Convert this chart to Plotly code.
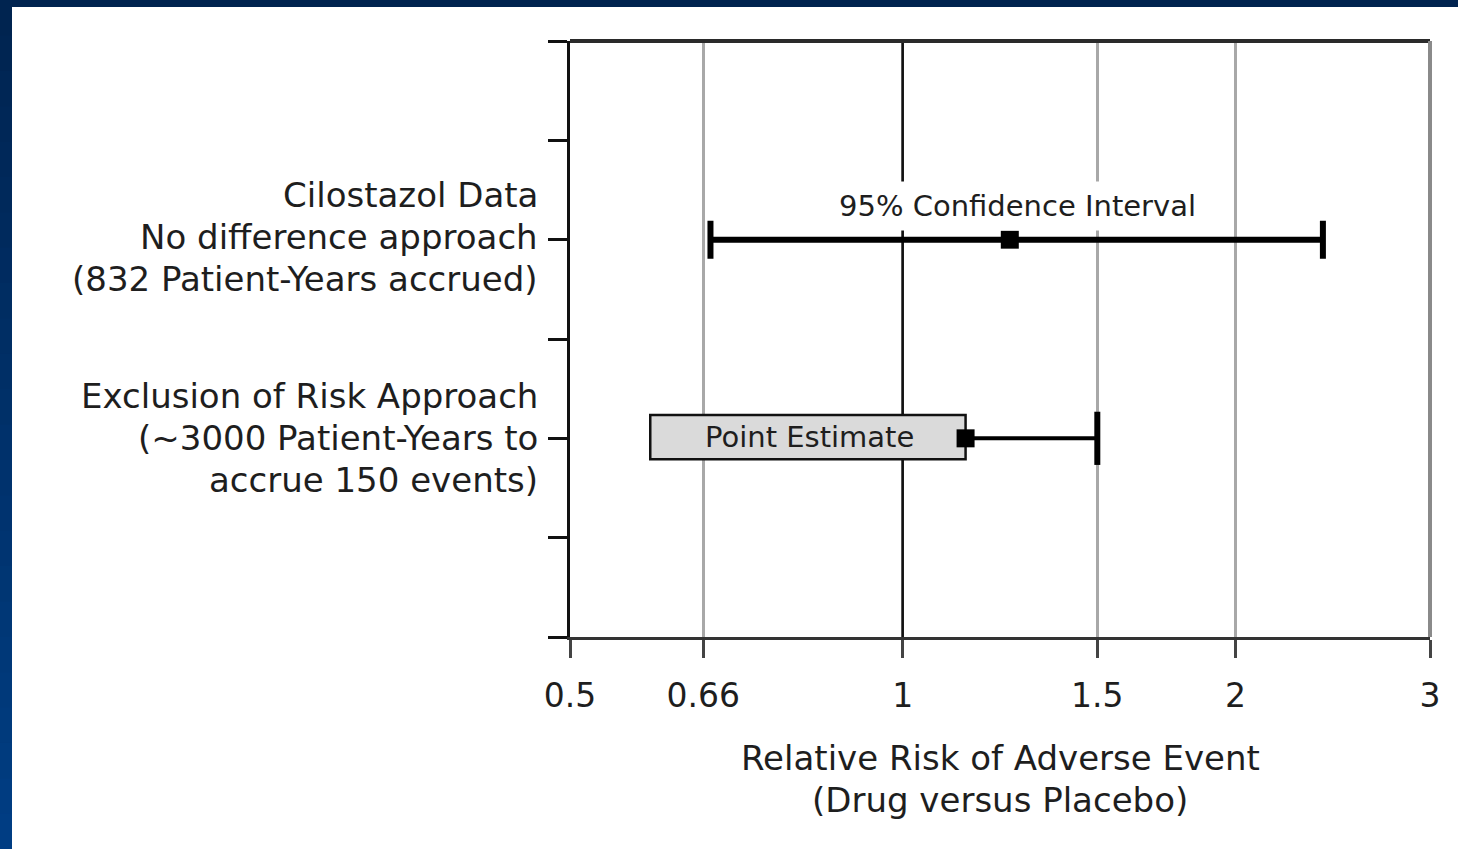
import math
import plotly.graph_objects as go

# Relative-risk interval estimates, one row per approach
row_positions = [4, 2]
point_estimates = [1.25, 1.14]
ci_lower = [0.67, None]
ci_upper = [2.40, 1.50]

row_labels = [
    "Cilostazol Data<br>No difference approach<br>(832 Patient-Years accrued)",
    "Exclusion of Risk Approach<br>(~3000 Patient-Years to<br>accrue 150 events)",
]
axis_title = "Relative Risk of Adverse Event<br>(Drug versus Placebo)"

x_tick_values = [0.5, 0.66, 1, 1.5, 2, 3]
x_tick_labels = ["0.5", "0.66", "1", "1.5", "2", "3"]
y_tick_values = [0, 1, 2, 3, 4, 5, 6]

FONT = "DejaVu Sans"
TEXT = "#1e1e1e"
LINE_GAP = 42  # pixel spacing between stacked text lines

W, H = 1458, 849
ML, MR, MT, MB = 570, 28, 41, 212
PW, PH = W - ML - MR, H - MT - MB


def px_x(px):
    return (px - ML) / PW


def px_y(py):
    return (H - MB - py) / PH


def y_to_px(v):
    return H - MB - v / 6 * PH


fig = go.Figure()

# Upper row: full two-sided confidence interval
fig.add_trace(go.Scatter(
    x=[point_estimates[0]], y=[row_positions[0]], mode="markers",
    marker=dict(symbol="square", size=18, color="black"),
    error_x=dict(type="data", symmetric=False,
                 array=[ci_upper[0] - point_estimates[0]],
                 arrayminus=[point_estimates[0] - ci_lower[0]],
                 thickness=6, width=19, color="black"),
    showlegend=False, hoverinfo="skip",
))

# Lower row: one-sided bound from the point estimate
fig.add_trace(go.Scatter(
    x=[point_estimates[1], ci_upper[1]], y=[row_positions[1]] * 2, mode="lines",
    line=dict(color="black", width=4), showlegend=False, hoverinfo="skip",
))
fig.add_trace(go.Scatter(
    x=[ci_upper[1]], y=[row_positions[1]], mode="markers",
    marker=dict(symbol="line-ns", size=38, line=dict(color="black", width=6)),
    showlegend=False, hoverinfo="skip",
))
fig.add_trace(go.Scatter(
    x=[point_estimates[1]], y=[row_positions[1]], mode="markers",
    marker=dict(symbol="square", size=18, color="black"),
    showlegend=False, hoverinfo="skip",
))

shapes = []

# Reference line at relative risk 1
shapes.append(dict(type="line", xref="x", yref="y", x0=1, x1=1, y0=0, y1=6,
                   line=dict(color="#111111", width=2.5), layer="between"))

# Label box behind the point estimate of the lower row
shapes.append(dict(type="rect", xref="x", yref="y",
                   x0=0.591, x1=point_estimates[1],
                   y0=row_positions[1] - 0.21, y1=row_positions[1] + 0.235,
                   fillcolor="#dadada", line=dict(color="#111111", width=2.5),
                   layer="between"))

# Frame: top and right edges
shapes.append(dict(type="line", xref="paper", yref="paper", x0=0, x1=1, y0=1, y1=1,
                   line=dict(color="#2a2a2a", width=4)))
shapes.append(dict(type="line", xref="paper", yref="paper", x0=1, x1=1, y0=0, y1=1,
                   line=dict(color="#8a8a8a", width=4)))

# Slide background: navy band at the top, shaded band on the left
shapes.append(dict(type="rect", xref="paper", yref="paper",
                   x0=px_x(0), x1=px_x(W), y0=px_y(7), y1=px_y(0),
                   fillcolor="#00234f", line=dict(width=0), layer="above"))
n_seg = 24
top_rgb = (0, 35, 79)
bot_rgb = (0, 62, 132)
for i in range(n_seg):
    t = (i + 0.5) / n_seg
    c = tuple(round(a + (b - a) * t) for a, b in zip(top_rgb, bot_rgb))
    y_top = H * i / n_seg
    y_bot = H * (i + 1) / n_seg + 1
    shapes.append(dict(type="rect", xref="paper", yref="paper",
                       x0=px_x(0), x1=px_x(12), y0=px_y(y_bot), y1=px_y(y_top),
                       fillcolor="rgb(%d,%d,%d)" % c, line=dict(width=0),
                       layer="above"))

annotations = []


def stacked_text(text, x, center_py, xanchor, size):
    """Place each line of a multi-line label at a fixed pixel spacing."""
    lines = text.split("<br>")
    n = len(lines)
    for k, line in enumerate(lines):
        py = center_py + (k - (n - 1) / 2) * LINE_GAP
        annotations.append(dict(
            text=line, xref="paper", yref="paper", x=x, y=px_y(py),
            xanchor=xanchor, yanchor="middle", showarrow=False,
            font=dict(family=FONT, size=size, color=TEXT),
        ))


# Row labels to the left of the axis
row_offsets = [-2.5, 0]
for label, pos, off in zip(row_labels, row_positions, row_offsets):
    stacked_text(label, px_x(540), y_to_px(pos) + off, "right", 34)

annotations.append(dict(
    text="95% Confidence Interval", xref="x", yref="y",
    x=math.log10(1.27), y=4.34, showarrow=False,
    bgcolor="white", borderpad=7,
    font=dict(family=FONT, size=29, color=TEXT),
))
annotations.append(dict(
    text="Point Estimate", xref="x", yref="y",
    x=math.log10(0.823), y=2.01, showarrow=False,
    font=dict(family=FONT, size=29, color=TEXT),
))

# Axis title
stacked_text(axis_title, 0.5, 779, "center", 34)

fig.update_layout(
    width=W, height=H,
    margin=dict(l=ML, r=MR, t=MT, b=MB, autoexpand=False),
    paper_bgcolor="white", plot_bgcolor="white",
    shapes=shapes, annotations=annotations,
    xaxis=dict(
        type="log", range=[math.log10(0.5), math.log10(3)],
        tickmode="array", tickvals=x_tick_values, ticktext=x_tick_labels,
        ticks="outside", ticklen=18, tickwidth=3, tickcolor="#444444",
        showline=True, linecolor="#333333", linewidth=3,
        showgrid=True, gridcolor="#a8a8a8", gridwidth=3, zeroline=False,
        tickfont=dict(family=FONT, size=33, color=TEXT),
        ticklabelstandoff=9,
    ),
    yaxis=dict(
        range=[0, 6], tickmode="array", tickvals=y_tick_values,
        ticktext=[""] * len(y_tick_values),
        ticks="outside", ticklen=19, tickwidth=3, tickcolor="#111111",
        showline=True, linecolor="#111111", linewidth=3,
        showgrid=False, zeroline=False,
    ),
)

fig.write_html("out.html")
